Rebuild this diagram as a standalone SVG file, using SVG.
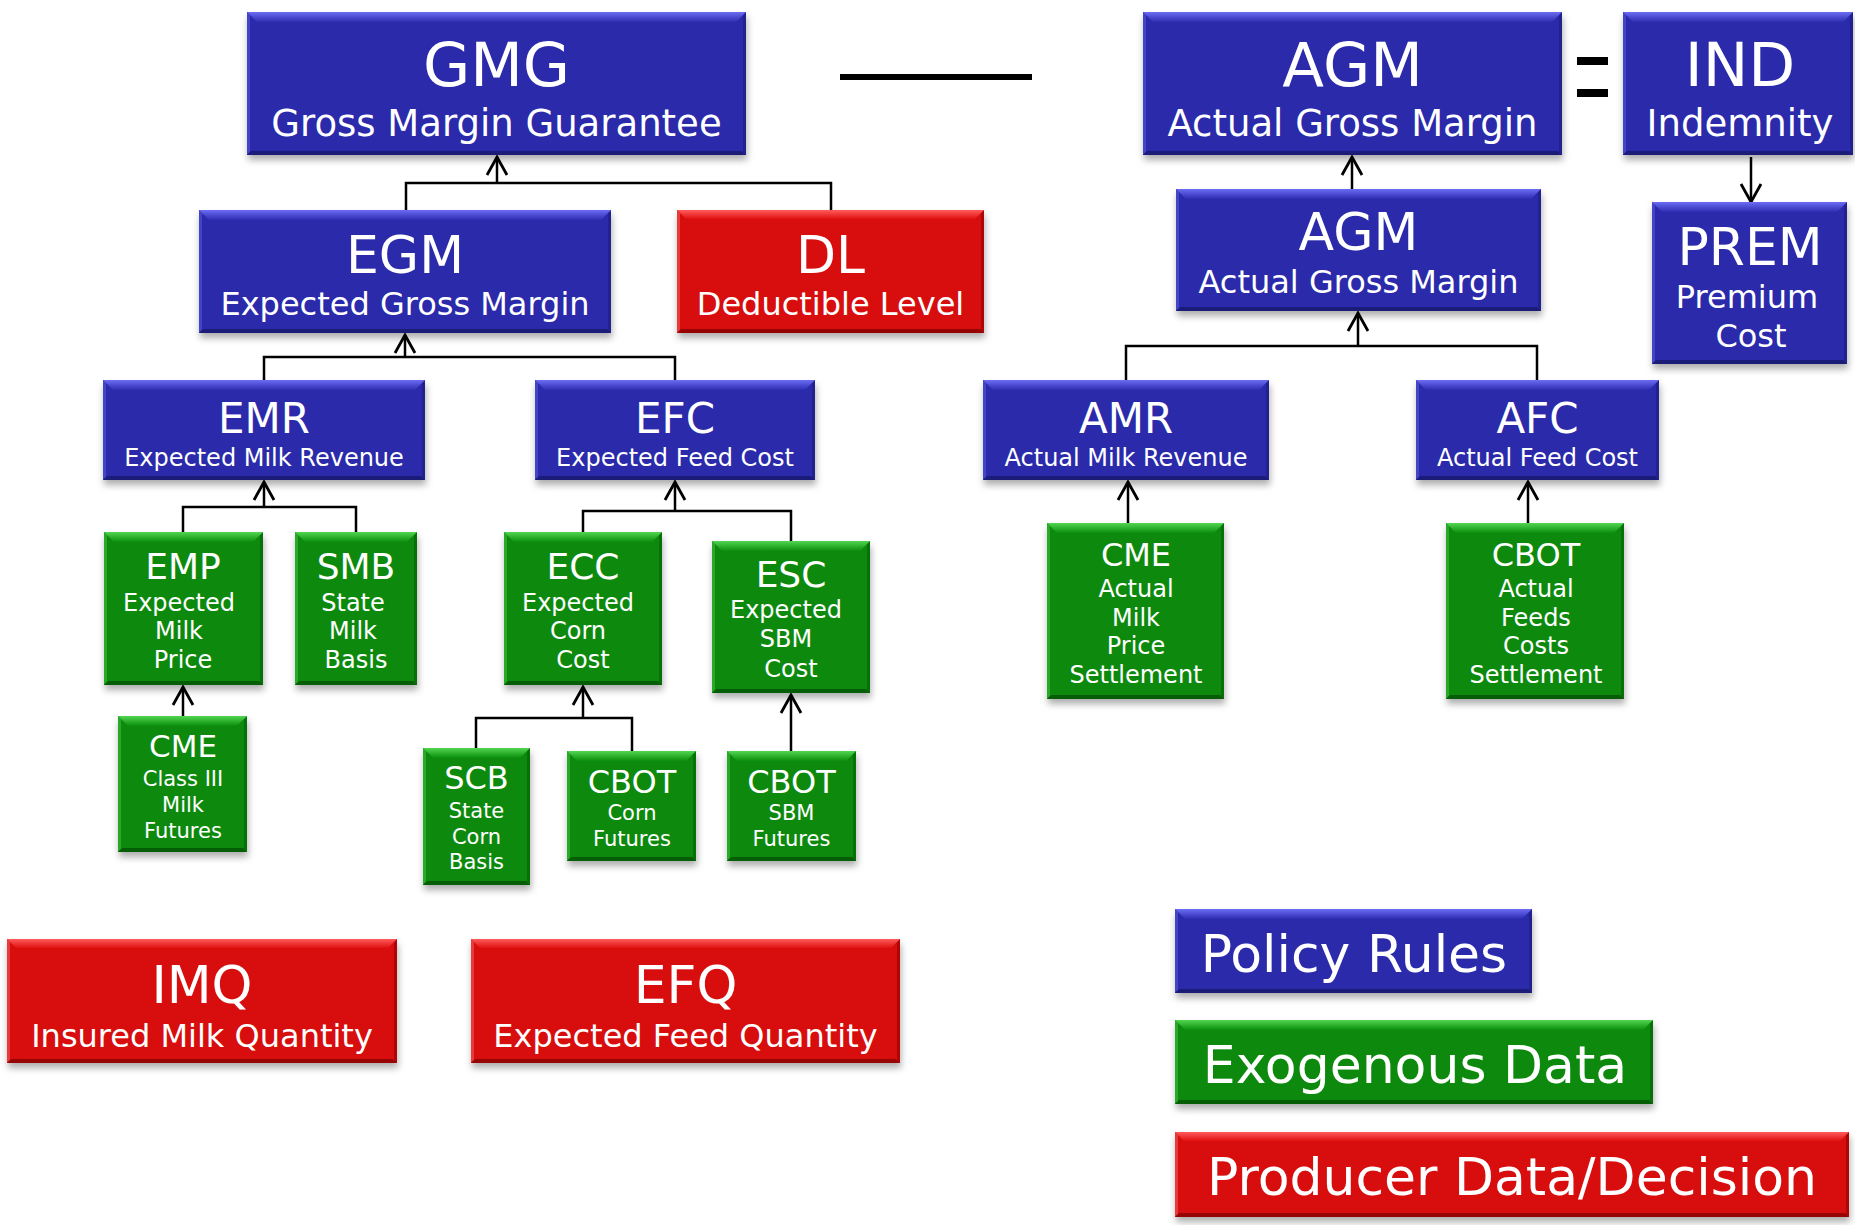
<svg xmlns="http://www.w3.org/2000/svg" width="1855" height="1225" viewBox="0 0 1855 1225">
<defs>
<linearGradient id="gB" x1="0" y1="0" x2="0" y2="1"><stop offset="0" stop-color="#6c6cf4"/><stop offset="1" stop-color="#2d2db2"/></linearGradient>
<linearGradient id="gR" x1="0" y1="0" x2="0" y2="1"><stop offset="0" stop-color="#ff5c5c"/><stop offset="1" stop-color="#dc0808"/></linearGradient>
<linearGradient id="gG" x1="0" y1="0" x2="0" y2="1"><stop offset="0" stop-color="#52d652"/><stop offset="1" stop-color="#0b8e0b"/></linearGradient>
<filter id="sh" x="-10%" y="-10%" width="120%" height="135%"><feDropShadow dx="1" dy="5" stdDeviation="3.5" flood-color="#000" flood-opacity="0.32"/></filter>
<marker id="ah" markerUnits="userSpaceOnUse" viewBox="-21 -12 23 24" markerWidth="23" markerHeight="24" refX="0" refY="0" orient="auto"><path d="M-18,-10 L0,0 L-18,10" fill="none" stroke="#000" stroke-width="2.8"/></marker>
<style>
.blue .body{fill:#2a2aab}.blue .top{fill:url(#gB)}.blue .lft{fill:#4444c8}.blue .rgt{fill:#22228e}.blue .bot{fill:#1b1b78}
.red .body{fill:#d80707}.red .top{fill:url(#gR)}.red .lft{fill:#e83a3a}.red .rgt{fill:#b00505}.red .bot{fill:#960404}
.green .body{fill:#098a09}.green .top{fill:url(#gG)}.green .lft{fill:#2aa82a}.green .rgt{fill:#077007}.green .bot{fill:#055e05}
.body{filter:url(#sh)}
text{font-family:"DejaVu Sans",Verdana,sans-serif;fill:#fff;text-anchor:middle}
.t61{font-size:61px}.t52{font-size:52px}.t42{font-size:42px}.t37{font-size:37px}.t36{font-size:36px}.t32{font-size:32px}.t31{font-size:31px}.t24{font-size:24px}.t21{font-size:21px}
.conn path{fill:none;stroke:#000;stroke-width:2.5}
.op{fill:#000}
</style>
</defs>
<rect width="1855" height="1225" fill="#fff"/>

<g id="connectors" class="conn">
<path d="M406,210 V183 H831 V210"/>
<path d="M497,183 V157" marker-end="url(#ah)"/>
<path d="M264,380 V357 H675 V380"/>
<path d="M405,357 V335" marker-end="url(#ah)"/>
<path d="M183,532 V507 H356 V532"/>
<path d="M264,507 V482" marker-end="url(#ah)"/>
<path d="M583,532 V511 H791 V541"/>
<path d="M675,511 V482" marker-end="url(#ah)"/>
<path d="M183,716 V687" marker-end="url(#ah)"/>
<path d="M476,748 V718 H632 V751"/>
<path d="M583,718 V687" marker-end="url(#ah)"/>
<path d="M791,751 V695" marker-end="url(#ah)"/>
<path d="M1352,189 V157" marker-end="url(#ah)"/>
<path d="M1126,380 V346 H1537 V380"/>
<path d="M1358,346 V313" marker-end="url(#ah)"/>
<path d="M1128,523 V482" marker-end="url(#ah)"/>
<path d="M1528,523 V482" marker-end="url(#ah)"/>
<path d="M1751,157 V202" marker-end="url(#ah)"/>
</g>

<g id="operators">
<rect class="op" x="840" y="74" width="192" height="6"/>
<rect class="op" x="1577" y="57" width="31" height="8"/>
<rect class="op" x="1577" y="89" width="31" height="8"/>
</g>

<g id="GMG" class="blue">
<rect class="body" x="247" y="12" width="499" height="143"/>
<polygon class="lft" points="247,12 250,15 250,152 247,155"/>
<polygon class="rgt" points="746,12 743,15 743,152 746,155"/>
<polygon class="top" points="247,12 746,12 736,22 257,22"/>
<polygon class="bot" points="247,155 746,155 742,151 251,151"/>
<text class="t61" x="496.5" y="86">GMG</text>
<text class="t37" x="496.5" y="136">Gross Margin Guarantee</text>
</g>

<g id="AGM" class="blue">
<rect class="body" x="1143" y="12" width="419" height="143"/>
<polygon class="lft" points="1143,12 1146,15 1146,152 1143,155"/>
<polygon class="rgt" points="1562,12 1559,15 1559,152 1562,155"/>
<polygon class="top" points="1143,12 1562,12 1552,22 1153,22"/>
<polygon class="bot" points="1143,155 1562,155 1558,151 1147,151"/>
<text class="t61" x="1352.5" y="86">AGM</text>
<text class="t37" x="1352.5" y="136">Actual Gross Margin</text>
</g>

<g id="IND" class="blue">
<rect class="body" x="1623" y="12" width="230" height="143"/>
<polygon class="lft" points="1623,12 1626,15 1626,152 1623,155"/>
<polygon class="rgt" points="1853,12 1850,15 1850,152 1853,155"/>
<polygon class="top" points="1623,12 1853,12 1843,22 1633,22"/>
<polygon class="bot" points="1623,155 1853,155 1849,151 1627,151"/>
<text class="t61" x="1740" y="86">IND</text>
<text class="t37" x="1740" y="136">Indemnity</text>
</g>

<g id="EGM" class="blue">
<rect class="body" x="199" y="210" width="412" height="123"/>
<polygon class="lft" points="199,210 202,213 202,330 199,333"/>
<polygon class="rgt" points="611,210 608,213 608,330 611,333"/>
<polygon class="top" points="199,210 611,210 601,220 209,220"/>
<polygon class="bot" points="199,333 611,333 607,329 203,329"/>
<text class="t52" x="405" y="273">EGM</text>
<text class="t32" x="405" y="315">Expected Gross Margin</text>
</g>

<g id="DL" class="red">
<rect class="body" x="677" y="210" width="307" height="123"/>
<polygon class="lft" points="677,210 680,213 680,330 677,333"/>
<polygon class="rgt" points="984,210 981,213 981,330 984,333"/>
<polygon class="top" points="677,210 984,210 974,220 687,220"/>
<polygon class="bot" points="677,333 984,333 980,329 681,329"/>
<text class="t52" x="830.5" y="273">DL</text>
<text class="t32" x="830.5" y="315">Deductible Level</text>
</g>

<g id="AGM2" class="blue">
<rect class="body" x="1176" y="189" width="365" height="122"/>
<polygon class="lft" points="1176,189 1179,192 1179,308 1176,311"/>
<polygon class="rgt" points="1541,189 1538,192 1538,308 1541,311"/>
<polygon class="top" points="1176,189 1541,189 1531,199 1186,199"/>
<polygon class="bot" points="1176,311 1541,311 1537,307 1180,307"/>
<text class="t52" x="1358.5" y="250">AGM</text>
<text class="t32" x="1358.5" y="293">Actual Gross Margin</text>
</g>

<g id="PREM" class="blue">
<rect class="body" x="1652" y="202" width="195" height="162"/>
<polygon class="lft" points="1652,202 1655,205 1655,361 1652,364"/>
<polygon class="rgt" points="1847,202 1844,205 1844,361 1847,364"/>
<polygon class="top" points="1652,202 1847,202 1837,212 1662,212"/>
<polygon class="bot" points="1652,364 1847,364 1843,360 1656,360"/>
<text class="t52" x="1750" y="265">PREM</text>
<text class="t32" x="1747" y="308">Premium</text>
<text class="t32" x="1751" y="347">Cost</text>
</g>

<g id="EMR" class="blue">
<rect class="body" x="103" y="380" width="322" height="100"/>
<polygon class="lft" points="103,380 106,383 106,477 103,480"/>
<polygon class="rgt" points="425,380 422,383 422,477 425,480"/>
<polygon class="top" points="103,380 425,380 415,390 113,390"/>
<polygon class="bot" points="103,480 425,480 421,476 107,476"/>
<text class="t42" x="264" y="433">EMR</text>
<text class="t24" x="264" y="466">Expected Milk Revenue</text>
</g>

<g id="EFC" class="blue">
<rect class="body" x="535" y="380" width="280" height="100"/>
<polygon class="lft" points="535,380 538,383 538,477 535,480"/>
<polygon class="rgt" points="815,380 812,383 812,477 815,480"/>
<polygon class="top" points="535,380 815,380 805,390 545,390"/>
<polygon class="bot" points="535,480 815,480 811,476 539,476"/>
<text class="t42" x="675" y="433">EFC</text>
<text class="t24" x="675" y="466">Expected Feed Cost</text>
</g>

<g id="AMR" class="blue">
<rect class="body" x="983" y="380" width="286" height="100"/>
<polygon class="lft" points="983,380 986,383 986,477 983,480"/>
<polygon class="rgt" points="1269,380 1266,383 1266,477 1269,480"/>
<polygon class="top" points="983,380 1269,380 1259,390 993,390"/>
<polygon class="bot" points="983,480 1269,480 1265,476 987,476"/>
<text class="t42" x="1126" y="433">AMR</text>
<text class="t24" x="1126" y="466">Actual Milk Revenue</text>
</g>

<g id="AFC" class="blue">
<rect class="body" x="1416" y="380" width="243" height="100"/>
<polygon class="lft" points="1416,380 1419,383 1419,477 1416,480"/>
<polygon class="rgt" points="1659,380 1656,383 1656,477 1659,480"/>
<polygon class="top" points="1416,380 1659,380 1649,390 1426,390"/>
<polygon class="bot" points="1416,480 1659,480 1655,476 1420,476"/>
<text class="t42" x="1537.5" y="433">AFC</text>
<text class="t24" x="1537.5" y="466">Actual Feed Cost</text>
</g>

<g id="EMP" class="green">
<rect class="body" x="104" y="532" width="159" height="153"/>
<polygon class="lft" points="104,532 107,535 107,682 104,685"/>
<polygon class="rgt" points="263,532 260,535 260,682 263,685"/>
<polygon class="top" points="104,532 263,532 253,542 114,542"/>
<polygon class="bot" points="104,685 263,685 259,681 108,681"/>
<text class="t36" x="183" y="579">EMP</text>
<text class="t24" x="179" y="611">Expected</text>
<text class="t24" x="179" y="639">Milk</text>
<text class="t24" x="183" y="668">Price</text>
</g>

<g id="SMB" class="green">
<rect class="body" x="295" y="532" width="122" height="153"/>
<polygon class="lft" points="295,532 298,535 298,682 295,685"/>
<polygon class="rgt" points="417,532 414,535 414,682 417,685"/>
<polygon class="top" points="295,532 417,532 407,542 305,542"/>
<polygon class="bot" points="295,685 417,685 413,681 299,681"/>
<text class="t36" x="356" y="579">SMB</text>
<text class="t24" x="353" y="611">State</text>
<text class="t24" x="353" y="639">Milk</text>
<text class="t24" x="356" y="668">Basis</text>
</g>

<g id="ECC" class="green">
<rect class="body" x="504" y="532" width="158" height="153"/>
<polygon class="lft" points="504,532 507,535 507,682 504,685"/>
<polygon class="rgt" points="662,532 659,535 659,682 662,685"/>
<polygon class="top" points="504,532 662,532 652,542 514,542"/>
<polygon class="bot" points="504,685 662,685 658,681 508,681"/>
<text class="t36" x="583" y="579">ECC</text>
<text class="t24" x="578" y="611">Expected</text>
<text class="t24" x="578" y="639">Corn</text>
<text class="t24" x="583" y="668">Cost</text>
</g>

<g id="ESC" class="green">
<rect class="body" x="712" y="541" width="158" height="152"/>
<polygon class="lft" points="712,541 715,544 715,690 712,693"/>
<polygon class="rgt" points="870,541 867,544 867,690 870,693"/>
<polygon class="top" points="712,541 870,541 860,551 722,551"/>
<polygon class="bot" points="712,693 870,693 866,689 716,689"/>
<text class="t36" x="791" y="587">ESC</text>
<text class="t24" x="786" y="618">Expected</text>
<text class="t24" x="786" y="647">SBM</text>
<text class="t24" x="791" y="677">Cost</text>
</g>

<g id="CME_Class3" class="green">
<rect class="body" x="118" y="716" width="129" height="136"/>
<polygon class="lft" points="118,716 121,719 121,849 118,852"/>
<polygon class="rgt" points="247,716 244,719 244,849 247,852"/>
<polygon class="top" points="118,716 247,716 237,726 128,726"/>
<polygon class="bot" points="118,852 247,852 243,848 122,848"/>
<text class="t31" x="183" y="757">CME</text>
<text class="t21" x="183" y="786">Class III</text>
<text class="t21" x="183" y="812">Milk</text>
<text class="t21" x="183" y="838">Futures</text>
</g>

<g id="SCB" class="green">
<rect class="body" x="423" y="748" width="107" height="137"/>
<polygon class="lft" points="423,748 426,751 426,882 423,885"/>
<polygon class="rgt" points="530,748 527,751 527,882 530,885"/>
<polygon class="top" points="423,748 530,748 520,758 433,758"/>
<polygon class="bot" points="423,885 530,885 526,881 427,881"/>
<text class="t32" x="476.5" y="789">SCB</text>
<text class="t21" x="476.5" y="818">State</text>
<text class="t21" x="476.5" y="844">Corn</text>
<text class="t21" x="476.5" y="869">Basis</text>
</g>

<g id="CBOT_Corn" class="green">
<rect class="body" x="567" y="751" width="129" height="110"/>
<polygon class="lft" points="567,751 570,754 570,858 567,861"/>
<polygon class="rgt" points="696,751 693,754 693,858 696,861"/>
<polygon class="top" points="567,751 696,751 686,761 577,761"/>
<polygon class="bot" points="567,861 696,861 692,857 571,857"/>
<text class="t32" x="632" y="793">CBOT</text>
<text class="t21" x="632" y="820">Corn</text>
<text class="t21" x="632" y="846">Futures</text>
</g>

<g id="CBOT_SBM" class="green">
<rect class="body" x="727" y="751" width="129" height="110"/>
<polygon class="lft" points="727,751 730,754 730,858 727,861"/>
<polygon class="rgt" points="856,751 853,754 853,858 856,861"/>
<polygon class="top" points="727,751 856,751 846,761 737,761"/>
<polygon class="bot" points="727,861 856,861 852,857 731,857"/>
<text class="t32" x="791.5" y="793">CBOT</text>
<text class="t21" x="791.5" y="820">SBM</text>
<text class="t21" x="791.5" y="846">Futures</text>
</g>

<g id="CME_Actual" class="green">
<rect class="body" x="1047" y="523" width="177" height="176"/>
<polygon class="lft" points="1047,523 1050,526 1050,696 1047,699"/>
<polygon class="rgt" points="1224,523 1221,526 1221,696 1224,699"/>
<polygon class="top" points="1047,523 1224,523 1214,533 1057,533"/>
<polygon class="bot" points="1047,699 1224,699 1220,695 1051,695"/>
<text class="t32" x="1136" y="566">CME</text>
<text class="t24" x="1136" y="597">Actual</text>
<text class="t24" x="1136" y="626">Milk</text>
<text class="t24" x="1136" y="654">Price</text>
<text class="t24" x="1136" y="683">Settlement</text>
</g>

<g id="CBOT_Actual" class="green">
<rect class="body" x="1446" y="523" width="178" height="176"/>
<polygon class="lft" points="1446,523 1449,526 1449,696 1446,699"/>
<polygon class="rgt" points="1624,523 1621,526 1621,696 1624,699"/>
<polygon class="top" points="1446,523 1624,523 1614,533 1456,533"/>
<polygon class="bot" points="1446,699 1624,699 1620,695 1450,695"/>
<text class="t32" x="1536" y="566">CBOT</text>
<text class="t24" x="1536" y="597">Actual</text>
<text class="t24" x="1536" y="626">Feeds</text>
<text class="t24" x="1536" y="654">Costs</text>
<text class="t24" x="1536" y="683">Settlement</text>
</g>

<g id="IMQ" class="red">
<rect class="body" x="7" y="939" width="390" height="124"/>
<polygon class="lft" points="7,939 10,942 10,1060 7,1063"/>
<polygon class="rgt" points="397,939 394,942 394,1060 397,1063"/>
<polygon class="top" points="7,939 397,939 387,949 17,949"/>
<polygon class="bot" points="7,1063 397,1063 393,1059 11,1059"/>
<text class="t52" x="202" y="1003">IMQ</text>
<text class="t32" x="202" y="1047">Insured Milk Quantity</text>
</g>

<g id="EFQ" class="red">
<rect class="body" x="471" y="939" width="429" height="124"/>
<polygon class="lft" points="471,939 474,942 474,1060 471,1063"/>
<polygon class="rgt" points="900,939 897,942 897,1060 900,1063"/>
<polygon class="top" points="471,939 900,939 890,949 481,949"/>
<polygon class="bot" points="471,1063 900,1063 896,1059 475,1059"/>
<text class="t52" x="685.5" y="1003">EFQ</text>
<text class="t32" x="685.5" y="1047">Expected Feed Quantity</text>
</g>

<g id="legend_policy" class="blue">
<rect class="body" x="1175" y="909" width="357" height="84"/>
<polygon class="lft" points="1175,909 1178,912 1178,990 1175,993"/>
<polygon class="rgt" points="1532,909 1529,912 1529,990 1532,993"/>
<polygon class="top" points="1175,909 1532,909 1522,919 1185,919"/>
<polygon class="bot" points="1175,993 1532,993 1528,989 1179,989"/>
<text class="t52" x="1354" y="972">Policy Rules</text>
</g>

<g id="legend_exogenous" class="green">
<rect class="body" x="1175" y="1020" width="478" height="84"/>
<polygon class="lft" points="1175,1020 1178,1023 1178,1101 1175,1104"/>
<polygon class="rgt" points="1653,1020 1650,1023 1650,1101 1653,1104"/>
<polygon class="top" points="1175,1020 1653,1020 1643,1030 1185,1030"/>
<polygon class="bot" points="1175,1104 1653,1104 1649,1100 1179,1100"/>
<text class="t52" x="1415" y="1083">Exogenous Data</text>
</g>

<g id="legend_producer" class="red">
<rect class="body" x="1175" y="1132" width="674" height="85"/>
<polygon class="lft" points="1175,1132 1178,1135 1178,1214 1175,1217"/>
<polygon class="rgt" points="1849,1132 1846,1135 1846,1214 1849,1217"/>
<polygon class="top" points="1175,1132 1849,1132 1839,1142 1185,1142"/>
<polygon class="bot" points="1175,1217 1849,1217 1845,1213 1179,1213"/>
<text class="t52" x="1512" y="1195">Producer Data/Decision</text>
</g>
</svg>
